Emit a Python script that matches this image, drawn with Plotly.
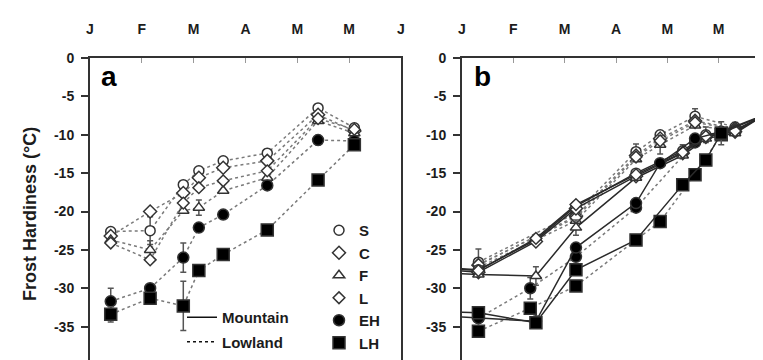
import plotly.graph_objects as go

# month tick labels along the top of both panels
month_ticks = [0, 1, 2, 3, 4, 5, 6]
month_labels = ["J", "F", "M", "A", "M", "M", "J"]
y_ticks = [0, -5, -10, -15, -20, -25, -30, -35, -40]
y_labels = ["0", "-5", "-10", "-15", "-20", "-25", "-30", "-35", "-40"]

# ---- panel a : lowland only (month position, 0 = 1 Jan) ----
a_dates = [0.40, 1.16, 1.80, 2.10, 2.57, 3.42, 4.40, 5.10]
a_S = [-22.6, -22.5, -16.5, -14.7, -13.4, -12.4, -6.5, -9.1]
a_C = [-23.2, -20.0, -17.6, -15.6, -14.3, -13.4, -7.4, -9.5]
a_F = [-23.7, -25.0, -19.9, -19.5, -17.3, -15.6, -8.2, -9.8]
a_L = [-24.1, -26.3, -18.9, -16.9, -16.0, -14.7, -7.9, -9.3]
a_EH = [-31.7, -30.0, -26.0, -22.1, -20.4, -16.6, -10.7, -10.8]
a_LH = [-33.4, -31.3, -32.3, -27.7, -25.6, -22.4, -15.9, -11.3]
a_S_err = [0, 1.8, 0, 0, 0, 0.5, 0, 0]
a_F_err = [0, 1.2, 0, 1.0, 0, 0, 0, 0]
a_EH_err = [1.7, 0, 1.9, 0, 0, 0, 0.6, 0]
a_LH_err = [1.0, 0, 3.2, 0, 0, 0, 0, 0]

# ---- panel b : mountain (solid) and lowland (dotted) ----
b_dates = [-0.4, 0.32, 1.33, 1.44, 2.22, 3.39, 3.86, 4.30, 4.54, 4.75, 5.05, 5.32, 5.90]
bm_S = [-27.3, -27.6, None, -23.7, -19.3, -15.0, None, -12.1, None, -10.0, None, -9.4, -7.4]
bm_C = [-27.6, -27.9, None, -23.9, -19.6, -15.4, None, -12.4, None, -10.3, None, -9.6, -7.4]
bm_F = [-28.0, -28.2, None, -28.4, -22.1, -15.6, None, -12.7, None, -10.5, None, -9.8, -7.4]
bm_L = [-27.4, -27.7, None, -23.5, -19.1, -15.2, None, -12.3, None, -10.2, None, -9.5, -7.4]
bm_EH = [-33.6, -33.9, None, -34.3, -24.7, -18.9, -13.7, None, -10.5, None, -9.6, None, -7.4]
bm_LH = [-33.0, -33.2, None, -34.5, -27.6, -23.7, None, -16.5, None, -13.3, -9.8, None, -7.4]
bl_S = [None, -26.6, None, None, -20.2, -12.2, -10.0, None, -7.6, None, None, -9.0, None]
bl_C = [None, -27.0, None, None, -20.6, -12.7, -10.5, None, -8.2, None, None, -9.2, None]
bl_F = [None, -27.3, None, None, -21.2, -13.2, -11.3, None, -8.8, None, None, -9.5, None]
bl_L = [None, -26.9, None, None, -20.8, -12.9, -10.8, None, -8.4, None, None, -9.3, None]
bl_EH = [None, -33.9, -30.0, None, -25.9, -19.5, None, None, -11.0, None, None, None, None]
bl_LH = [None, -35.6, -32.6, None, -29.7, None, -21.3, None, -15.2, None, -10.0, None, None]
bm_S_err = [0, 0, 0, 0, 0, 0, 0, 0.8, 0, 1.0, 0, 0, 0]
bm_F_err = [0, 0, 0, 1.2, 1.0, 0, 0, 0, 0, 0, 0, 0, 0]
bm_LH_err = [0, 0, 0, 0, 0, 0, 0, 0, 0, 0, 1.5, 0, 0]
bl_S_err = [0, 1.7, 0, 0, 0, 1.0, 0, 0, 1.0, 0, 0, 0.6, 0]
bl_F_err = [0, 0, 0, 0, 0, 0, 1.2, 0, 0, 0, 0, 0, 0]
bl_EH_err = [0, 0, 1.4, 0, 0, 0, 0, 0, 0, 0, 0, 0, 0]

groups = ["S", "C", "F", "L", "EH", "LH"]
symbols = {"S": "circle", "C": "diamond", "F": "triangle-up", "L": "diamond",
           "EH": "circle", "LH": "square"}
fills = {"S": "white", "C": "white", "F": "white", "L": "white", "EH": "black", "LH": "black"}
sizes = {"S": 10, "C": 10, "F": 10, "L": 9, "EH": 11, "LH": 12}

FONT = "Liberation Sans, Arial, sans-serif"
INK = "#1c1c1c"

fig = go.Figure()


def add_series(x, y, err, g, xa, ya, dash, lcolor):
    fig.add_trace(go.Scatter(
        x=x, y=y, xaxis=xa, yaxis=ya, mode="lines+markers",
        connectgaps=True, showlegend=False,
        line=dict(color=lcolor, width=1.5, dash=dash),
        marker=dict(symbol=symbols[g], size=sizes[g], color=fills[g],
                    line=dict(color="#333", width=1.5)),
        error_y=dict(type="data", array=err, visible=err is not None,
                     color="#555", thickness=1.5, width=3),
    ))


LOW_DASH = "3px,3px"
LOW_COL = "#7a7a7a"
MTN_COL = "#2a2a2a"

a_vals = [a_S, a_C, a_F, a_L, a_EH, a_LH]
a_errs = [a_S_err, None, a_F_err, None, a_EH_err, a_LH_err]
for g, y, e in zip(groups, a_vals, a_errs):
    add_series(a_dates, y, e, g, "x", "y", LOW_DASH, LOW_COL)

bl_vals = [bl_S, bl_C, bl_F, bl_L, bl_EH, bl_LH]
bl_errs = [bl_S_err, None, bl_F_err, None, bl_EH_err, None]
for g, y, e in zip(groups, bl_vals, bl_errs):
    add_series(b_dates, y, e, g, "x2", "y2", LOW_DASH, LOW_COL)

bm_vals = [bm_S, bm_C, bm_F, bm_L, bm_EH, bm_LH]
bm_errs = [bm_S_err, None, bm_F_err, None, None, bm_LH_err]
for g, y, e in zip(groups, bm_vals, bm_errs):
    add_series(b_dates, y, e, g, "x2", "y2", "solid", MTN_COL)

# legend entries: symbols
for g in groups:
    fig.add_trace(go.Scatter(
        x=[None], y=[None], mode="markers", name=g, legend="legend",
        marker=dict(symbol=symbols[g], size=sizes[g], color=fills[g],
                    line=dict(color="#333", width=1.5)),
    ))
# legend entries: site type
for name, dash in [("Mountain", "solid"), ("Lowland", "3px,3px")]:
    fig.add_trace(go.Scatter(
        x=[None], y=[None], mode="lines", name=name, legend="legend2",
        legendgroup=name, line=dict(color="#111", width=1.5, dash=dash),
    ))

W, H = 763, 360
xdom_a = [82 / W, 393 / W]
xdom_b = [454 / W, 762 / W]
ydom = [1 - 357 / H, 1 - 50 / H]

xaxis_style = dict(
    range=[0, 6], side="top", tickvals=month_ticks, ticktext=month_labels,
    ticks="inside", ticklen=5, tickwidth=1, tickcolor="#999",
    ticklabelstandoff=16, showgrid=False, zeroline=False, automargin=False,
    showline=True, linewidth=2, linecolor="#333", mirror=True,
    tickfont=dict(family=FONT, size=14, color=INK, weight="bold"),
)
yaxis_style = dict(
    range=[-40, 0], tickvals=y_ticks, ticktext=y_labels,
    ticks="outside", ticklen=7, tickwidth=2, tickcolor="#333",
    ticklabelstandoff=4, ticklabeloverflow="allow",
    showgrid=False, zeroline=False, automargin=False,
    showline=True, linewidth=2, linecolor="#333", mirror=True,
    tickfont=dict(family=FONT, size=14, color=INK, weight="bold"),
)

fig.update_layout(
    width=W, height=H, margin=dict(l=0, r=0, t=0, b=0),
    paper_bgcolor="white", plot_bgcolor="white",
    xaxis=dict(domain=xdom_a, anchor="y", **xaxis_style),
    yaxis=dict(domain=ydom, anchor="x", **yaxis_style),
    xaxis2=dict(domain=xdom_b, anchor="y2", **xaxis_style),
    yaxis2=dict(domain=ydom, anchor="x2", **yaxis_style),
    legend=dict(x=311 / W, y=1 - 206 / H, xanchor="left", yanchor="top",
                bgcolor="rgba(0,0,0,0)", itemclick=False,
                font=dict(family=FONT, size=15, color=INK, weight="bold")),
    legend2=dict(x=174 / W, y=1 - 293 / H, xanchor="left", yanchor="top",
                 bgcolor="rgba(0,0,0,0)", tracegroupgap=2,
                 font=dict(family=FONT, size=15, color=INK, weight="bold")),
    annotations=[
        dict(text="Frost Hardiness (°C)", textangle=-90, xref="paper", yref="paper",
             x=22 / W, y=1 - 206 / H, xanchor="center", yanchor="middle",
             showarrow=False,
             font=dict(family=FONT, size=18, color=INK, weight="bold")),
        dict(text="a", xref="paper", yref="paper", x=91 / W, y=1 - 68 / H,
             xanchor="left", yanchor="middle", showarrow=False,
             font=dict(family=FONT, size=28, color="black", weight="bold")),
        dict(text="b", xref="paper", yref="paper", x=464 / W, y=1 - 68 / H,
             xanchor="left", yanchor="middle", showarrow=False,
             font=dict(family=FONT, size=28, color="black", weight="bold")),
    ],
)

fig.write_html("out.html")
